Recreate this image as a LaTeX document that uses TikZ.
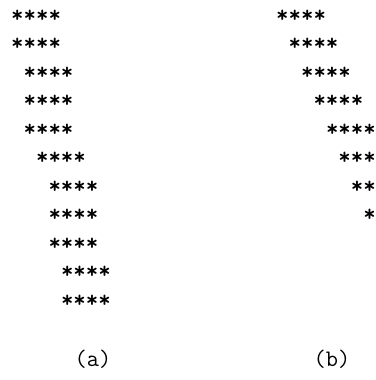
\documentclass[tikz,border=0pt]{standalone}
\usepackage{fontspec}
\setmonofont{Latin Modern Mono}
\newfontfamily\startt{lmmonolt10-bold.otf}
\begin{document}
\begin{tikzpicture}[x=1pt,y=-1pt,
  stars/.style={anchor=base west,inner sep=0pt,font=\startt\fontsize{23.7}{24}\selectfont},
  lab/.style={anchor=base,inner sep=0pt,font=\ttfamily\fontsize{23.7}{24}\selectfont}]
\useasboundingbox (0,0) rectangle (375,380);
\def\cw{12.45}
\def\rh{28.5}
% left column
\foreach \k [count=\i from 0] in {0,0,1,1,1,2,3,3,3,4,4}
  \node[stars] (a\i) at ({11+\k*\cw},{22+\i*\rh}) {****};
% right column
\foreach \k/\s [count=\i from 0] in {0/****,1/****,2/****,3/****,4/****,5/***,6/**,7/*}
  \node[stars] (b\i) at ({276+\k*\cw},{22+\i*\rh}) {\s};
\node[lab] (la) at (93,366) {(a)};
\node[lab] (lb) at (332,366) {(b)};
\end{tikzpicture}
\end{document}
